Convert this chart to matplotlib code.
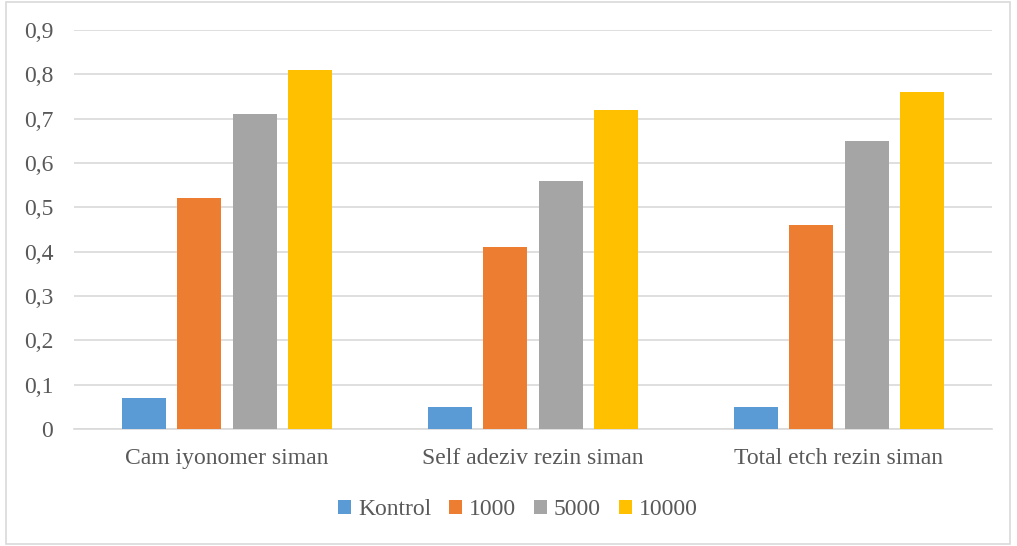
import matplotlib
matplotlib.use("Agg")
from matplotlib import pyplot as plt
from matplotlib.patches import Rectangle
import numpy as np

# data
kategoriler = ["Cam iyonomer siman", "Self adeziv rezin siman", "Total etch rezin siman"]
seriler = ["Kontrol", "1000", "5000", "10000"]
kontrol = [0.07, 0.05, 0.05]
d_1000 = [0.52, 0.41, 0.46]
d_5000 = [0.71, 0.56, 0.65]
d_10000 = [0.81, 0.72, 0.76]
y_ticks = [0, 0.1, 0.2, 0.3, 0.4, 0.5, 0.6, 0.7, 0.8, 0.9]

renkler = ["#5B9BD5", "#ED7D31", "#A5A5A5", "#FFC000"]
yazi_rengi = "#595959"
izgara = "#D9D9D9"

plt.rcParams["font.family"] = ["Liberation Serif", "DejaVu Serif"]

fig = plt.figure(figsize=(10.17, 5.46), dpi=100)
ax = fig.add_axes([0.0728, 0.2143, 0.9026, 0.7308])

x = np.arange(len(kategoriler))
bar_width = 0.144
adim = 0.181
for i, (ad, degerler) in enumerate(zip(seriler, [kontrol, d_1000, d_5000, d_10000])):
    ax.bar(x + (i - 1.5) * adim, degerler, width=bar_width, color=renkler[i], label=ad, zorder=3)

ax.set_xlim(-0.5, len(kategoriler) - 0.5)
ax.set_ylim(0, 0.9)
ax.set_yticks(y_ticks)
ax.set_yticklabels([("%.1f" % v).replace(".", ",") if v else "0" for v in y_ticks])
ax.set_xticks(x)
ax.set_xticklabels(kategoriler)

# grid and spines
ax.grid(axis="y", color=izgara, linewidth=1.2, zorder=0)
for s in ["top", "right", "left"]:
    ax.spines[s].set_visible(False)
ax.spines["bottom"].set_color(izgara)
ax.spines["bottom"].set_linewidth(1.2)
ax.tick_params(axis="both", length=0, labelsize=17, colors=yazi_rengi)
ax.tick_params(axis="y", pad=15)
ax.tick_params(axis="x", pad=14)

fig.legend(loc="center", bbox_to_anchor=(0.509, 0.066), ncol=4, frameon=False,
           fontsize=17, handlelength=0.55, handleheight=0.55, handletextpad=0.3,
           columnspacing=0.75, labelcolor=yazi_rengi)

# chart border
fig.patches.append(Rectangle((6 / 1017, 2 / 546), 1004 / 1017, 542 / 546,
                             transform=fig.transFigure, fill=False,
                             edgecolor=izgara, linewidth=1.2))

plt.savefig("out.png", dpi=100)
